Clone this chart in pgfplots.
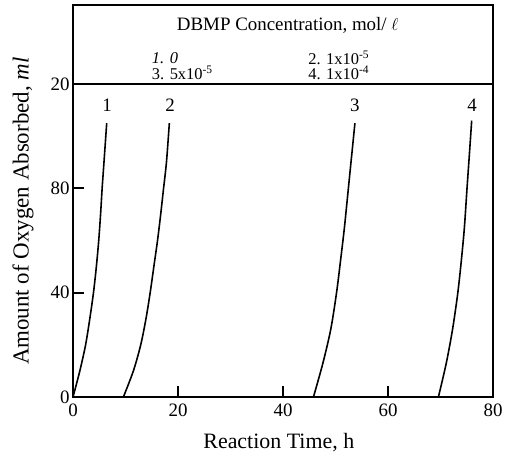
\documentclass[border=0pt]{standalone}
\usepackage{fontspec}
\setmainfont{Liberation Serif}
\usepackage{pgfplots}
\pgfplotsset{compat=1.18}

\begin{document}
\begin{tikzpicture}
\begin{axis}[
    scale only axis,
    width=420bp, height=392bp,
    xmin=0, xmax=80,
    ymin=0, ymax=150.3,
    axis line style={line width=1.6pt},
    xtick={0,20,40,60,80},
    ytick={0,40,80,120},
    yticklabels={0,40,80,20},
    tick align=inside,
    xtick pos=bottom, ytick pos=left,
    major tick length=11bp,
    every tick/.style={black, line width=1.8pt},
    tick label style={font=\fontsize{19}{21}\selectfont},
    xticklabel style={yshift=-3bp},
    /pgf/number format/assume math mode=true,
    xlabel={Reaction Time, h},
    ylabel={Amount of Oxygen Absorbed, \textit{ml}},
    xlabel style={font=\fontsize{22}{24}\selectfont,
        at={(axis description cs:0.49,-0.117)}, anchor=center},
    ylabel style={font=\fontsize{23}{25}\selectfont,
        at={(axis description cs:-0.119,0.474)}, anchor=center},
    clip=false,
]
\addplot[black, line width=1.6pt, smooth] table {
x y
0 0
1.3 10
2.4 20
3.2 30
3.9 40
4.45 50
4.9 60
5.25 70
5.55 80
5.9 90
6.42 105
};
\addplot[black, line width=1.6pt, smooth] table {
x y
9.6 0
11.5 10
12.9 20
13.9 30
14.7 40
15.4 50
16.1 60
16.7 70
17.25 80
17.8 90
18.35 105
};
\addplot[black, line width=1.6pt, smooth] table {
x y
45.8 0
47.6 13
49.1 26
50.2 40
51.0 53
51.7 65
52.45 80
53.1 93
53.7 105
};
\addplot[black, line width=1.6pt, smooth] table {
x y
69.6 0
71.1 13
72.3 26
73.3 40
74.0 53
74.55 65
75.05 80
75.5 93
75.94 106
};

% legend box separator
\draw[line width=1.6pt] (axis cs:0,120) -- (axis cs:80,120);

% curve numbers
\begin{scope}[font=\fontsize{19}{21}\selectfont]
\node at (axis cs:6.5,112) {1};
\node at (axis cs:18.5,112) {2};
\node at (axis cs:53.7,112) {3};
\node at (axis cs:76.0,112) {4};
\end{scope}

% legend text
\node[font=\fontsize{19}{21}\selectfont] at (axis cs:40.9,142.6) {DBMP Concentration, mol/ $\ell$};
\begin{scope}[font=\fontsize{16.5}{18}\selectfont, inner sep=0pt]
\node[anchor=west] at (axis cs:15.0,130.0) {\textit{1. 0}};
\node[anchor=west] at (axis cs:15.0,124.3) {3. 5x10\textsuperscript{-5}};
\node[anchor=west] at (axis cs:44.8,130.0) {2. 1x10\textsuperscript{-5}};
\node[anchor=west] at (axis cs:44.8,124.3) {4. 1x10\textsuperscript{-4}};
\end{scope}

% page margins as in the reference
\path (rel axis cs:0,1) ++(0,5bp) coordinate (tp);
\path (rel axis cs:1,0) ++(14bp,-59bp) coordinate (br);
\path (rel axis cs:0,0) ++(-73bp,0) coordinate (lf);
\end{axis}
\end{tikzpicture}
\end{document}
